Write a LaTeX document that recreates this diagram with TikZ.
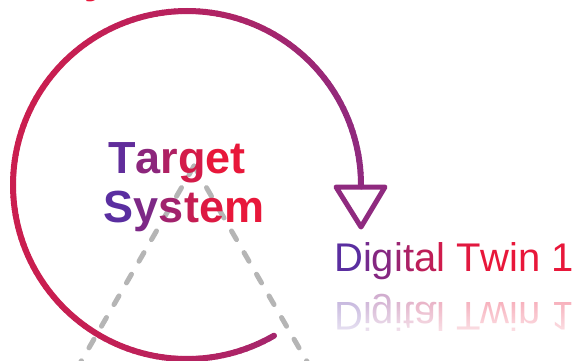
\documentclass[tikz,border=0pt]{standalone}
\usepackage{fontspec}
\setmainfont{Liberation Sans}
\usetikzlibrary{fadings}
\definecolor{tpur}{HTML}{5A2EA0}
\definecolor{tred}{HTML}{E8173A}
\definecolor{acrim}{HTML}{CA1E4F}
\definecolor{apur}{HTML}{8F2A7F}
\definecolor{dgray}{HTML}{B5B5B5}
\tikzfading[name=fadedown, top color=transparent!100, bottom color=transparent!0]
\tikzset{
  conedash/.style={draw=dgray, line width=5pt, line cap=round, dash pattern=on 10pt off 15pt},
  arcseg/.style={line width=6pt, line cap=round},
  arrowhd/.style={draw=apur, line width=5pt, line join=round},
  bigtxt/.style={font=\fontsize{45}{50}\selectfont\bfseries, inner sep=0pt, anchor=base},
  dttxt/.style={font=\fontsize{40}{44}\selectfont, inner sep=0pt, anchor=base west},
}
\newcommand\gc[2]{\textcolor{tred!#1!tpur}{#2}}
\begin{document}
\begin{tikzpicture}[x=1pt,y=-1pt]
\useasboundingbox (0,0) rectangle (583,361);
\clip (0,0) rectangle (583,361);
% fragments of a text above the picture
\node[bigtxt, text=tred, anchor=base west] (fragA) at (84,-7) {y};
\node[bigtxt, text=tred, anchor=base west] (fragB) at (204,-9.5) {y};
% dashed cone
\coordinate (apex) at (194,166);
\coordinate (bl) at (70.4,380);
\coordinate (br) at (317.6,380);
\draw[conedash] (apex) -- (bl);
\draw[conedash] (apex) -- (br);
% gradient arc
\foreach \a in {60,62,...,358} {
  \pgfmathtruncatemacro\w{100*((1+cos(\a+1))/2)^1.5}
  \draw[arcseg, draw=apur!\w!acrim] ({187+174*cos(\a)},{185+174*sin(\a)}) -- ({187+174*cos(\a+2)},{185+174*sin(\a+2)});
}
% arrow head
\coordinate (arcend) at (361,185);
\coordinate (tritop) at (361,187);
\coordinate (tipL) at (336,187);
\coordinate (tipR) at (385,187);
\coordinate (tip) at (361,227);
\draw[arrowhd, line cap=round] (arcend) -- (tritop);
\draw[arrowhd] (tipL) -- (tipR) -- (tip) -- cycle;
% texts
\node[bigtxt] (tg1) at (177,173) {\gc{5}{T}\gc{35}{a}\gc{60}{r}\gc{85}{g}\gc{100}{e}\gc{100}{t}};
\node[bigtxt] (tg2) at (184,222) {\gc{0}{S}\gc{25}{y}\gc{50}{s}\gc{75}{t}\gc{92}{e}\gc{100}{m}};
\node[dttxt] (dt) at (334,271) {\gc{0}{D}\gc{18}{i}\gc{30}{g}\gc{45}{i}\gc{57}{t}\gc{70}{a}\gc{82}{l} \gc{95}{T}\gc{100}{win 1}};
\node[dttxt, yscale=-1, opacity=0.45] (dtr) at (334,302) {\gc{0}{D}\gc{18}{i}\gc{30}{g}\gc{45}{i}\gc{57}{t}\gc{70}{a}\gc{82}{l} \gc{95}{T}\gc{100}{win 1}};
\fill[white, path fading=fadedown] (330,284) rectangle (583,352);
\end{tikzpicture}
\end{document}
